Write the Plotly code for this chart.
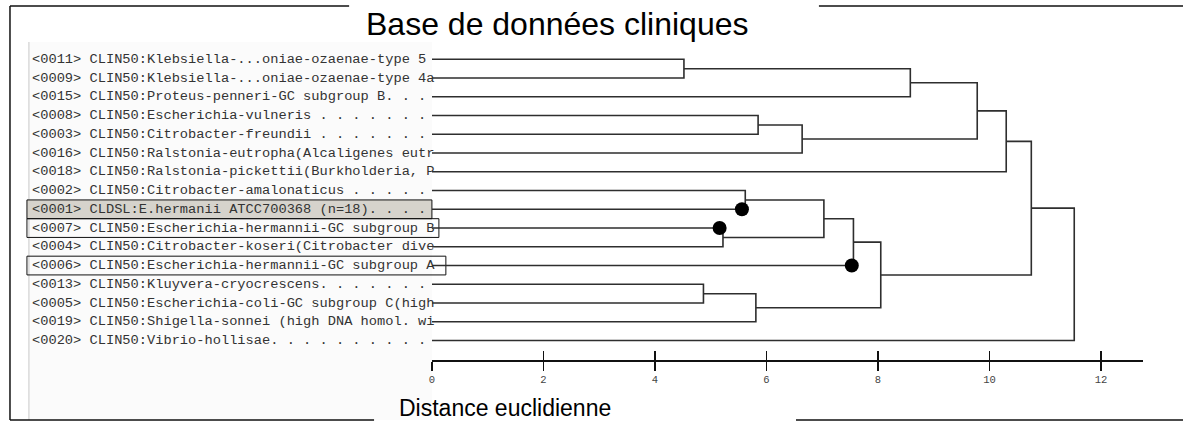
import plotly.graph_objects as go

W, H = 1183, 422

title_text = "Base de données cliniques"
xlabel_text = "Distance euclidienne"

leaf_labels = [
    "<0011> CLIN50:Klebsiella-...oniae-ozaenae-type 5 ",
    "<0009> CLIN50:Klebsiella-...oniae-ozaenae-type 4a",
    "<0015> CLIN50:Proteus-penneri-GC subgroup B. . . ",
    "<0008> CLIN50:Escherichia-vulneris . . . . . . . ",
    "<0003> CLIN50:Citrobacter-freundii . . . . . . . ",
    "<0016> CLIN50:Ralstonia-eutropha(Alcaligenes eutr",
    "<0018> CLIN50:Ralstonia-pickettii(Burkholderia, P",
    "<0002> CLIN50:Citrobacter-amalonaticus . . . . . ",
    "<0001> CLDSL:E.hermanii ATCC700368 (n=18). . . . ",
    "<0007> CLIN50:Escherichia-hermannii-GC subgroup B",
    "<0004> CLIN50:Citrobacter-koseri(Citrobacter dive",
    "<0006> CLIN50:Escherichia-hermannii-GC subgroup A",
    "<0013> CLIN50:Kluyvera-cryocrescens. . . . . . . ",
    "<0005> CLIN50:Escherichia-coli-GC subgroup C(high",
    "<0019> CLIN50:Shigella-sonnei (high DNA homol. wi",
    "<0020> CLIN50:Vibrio-hollisae. . . . . . . . . . ",
]

# linkage: children are leaf indices (0..15) or 16+k for merge k
merge_a = [0, 16, 3, 18, 17, 20, 7, 9, 22, 24, 12, 26, 25, 21, 29]
merge_b = [1, 2, 4, 5, 19, 6, 8, 10, 23, 11, 13, 14, 27, 28, 15]
merge_height = [4.52, 8.58, 5.85, 6.64, 9.78, 10.30, 5.62, 5.22, 7.03, 7.56,
                4.87, 5.81, 8.05, 10.75, 11.52]

# highlighted leaves (dots)
dot_leaves = [8, 9, 11]
dot_dist = [5.56, 5.16, 7.53]

# boxed labels
box_leaves = [8, 9, 11]
box_fill = ["#d6d3cc", "rgba(255,255,255,0)", "rgba(255,255,255,0)"]
box_right_px = [430, 437, 444]

tick_vals = [0, 2, 4, 6, 8, 10, 12]
tick_text = ["0", "2", "4", "6", "8", "10", "12"]

# ---- geometry ----
n_leaves = len(leaf_labels)
x0_px, x_end_px = 430, 1143
px_per_unit = 55.9
x_max = (x_end_px - x0_px) / px_per_unit
axis_px = 360
row0_px, row_step = 59.3, 18.75
y_top = -row0_px / row_step
y_bot = (axis_px - row0_px) / row_step


def px_x(p):
    return p / W


def px_y(p):
    return 1 - p / H


# compute node positions
node_y = {i: float(i) for i in range(n_leaves)}
node_h = {i: 0.0 for i in range(n_leaves)}
xs, ys = [], []
for k, (a, b, h) in enumerate(zip(merge_a, merge_b, merge_height)):
    nid = n_leaves + k
    ya, yb = node_y[a], node_y[b]
    xs += [node_h[a], h, h, node_h[b], None]
    ys += [ya, ya, yb, yb, None]
    node_y[nid] = (ya + yb) / 2
    node_h[nid] = h

fig = go.Figure()
fig.add_trace(go.Scatter(x=xs, y=ys, mode="lines",
                         line=dict(color="#2e2e2e", width=1.6),
                         hoverinfo="skip", showlegend=False, cliponaxis=False))
fig.add_trace(go.Scatter(x=dot_dist, y=dot_leaves, mode="markers",
                         marker=dict(color="black", size=14),
                         hoverinfo="skip", showlegend=False, cliponaxis=False))
# invisible trace on overlay axis for crossing ticks
fig.add_trace(go.Scatter(x=tick_vals, y=[y_bot] * len(tick_vals), xaxis="x2",
                         mode="markers", marker=dict(opacity=0),
                         hoverinfo="skip", showlegend=False))

shapes = []
# label panel
shapes.append(dict(type="rect", xref="paper", yref="paper",
                   x0=px_x(26), x1=px_x(430), y0=px_y(420), y1=px_y(42),
                   fillcolor="#fbfbfb", line=dict(width=0), layer="below"))
shapes.append(dict(type="line", xref="paper", yref="paper",
                   x0=px_x(26), x1=px_x(26), y0=px_y(420), y1=px_y(42),
                   line=dict(color="#c8c8c8", width=1), layer="below"))
# label boxes
for leaf, fill, rpx in zip(box_leaves, box_fill, box_right_px):
    shapes.append(dict(type="rect", xref="paper", yref="y",
                       x0=px_x(24), x1=px_x(rpx), y0=leaf - 0.5, y1=leaf + 0.5,
                       fillcolor=fill, line=dict(color="#111", width=1),
                       layer="below"))
# frame lines
frame = [
    (7, 6, 7, 420),
    (7, 6, 347, 6),
    (818, 6, 1183, 6),
    (7, 420, 372, 420),
    (795, 420, 1183, 420),
]
for xa, ya, xb, yb in frame:
    shapes.append(dict(type="line", xref="paper", yref="paper",
                       x0=px_x(xa), y0=px_y(ya), x1=px_x(xb), y1=px_y(yb),
                       line=dict(color="#111", width=1.5)))

annotations = []
for i, lab in enumerate(leaf_labels):
    annotations.append(dict(x=px_x(27), y=i, xref="paper", yref="y",
                            text=lab, showarrow=False, xanchor="left",
                            yanchor="middle",
                            font=dict(family="Liberation Mono, Courier New, monospace",
                                      size=13.7, color="#333")))
annotations.append(dict(x=px_x(556), y=px_y(24), xref="paper", yref="paper",
                        text=title_text, showarrow=False, xanchor="center",
                        yanchor="middle",
                        font=dict(family="Liberation Sans, Arial, sans-serif",
                                  size=32, color="black")))
annotations.append(dict(x=px_x(503), y=px_y(408), xref="paper", yref="paper",
                        text=xlabel_text, showarrow=False, xanchor="center",
                        yanchor="middle",
                        font=dict(family="Liberation Sans, Arial, sans-serif",
                                  size=23, color="black")))

dom_x = [px_x(x0_px), px_x(x_end_px)]
fig.update_layout(
    width=W, height=H,
    margin=dict(l=0, r=0, t=0, b=0),
    paper_bgcolor="white", plot_bgcolor="rgba(0,0,0,0)",
    showlegend=False,
    xaxis=dict(domain=dom_x, range=[0, x_max], showgrid=False, zeroline=False,
               showline=True, linecolor="#111", linewidth=1.5,
               ticks="outside", ticklen=9, tickwidth=1.2, tickcolor="#111",
               tickvals=tick_vals, ticktext=tick_text,
               tickfont=dict(family="Liberation Mono, Courier New, monospace",
                             size=10.5, color="#444"),
               anchor="y", fixedrange=True),
    xaxis2=dict(domain=dom_x, range=[0, x_max], overlaying="x", anchor="y",
                showgrid=False, zeroline=False, showline=False,
                ticks="inside", ticklen=9, tickwidth=1.2, tickcolor="#111",
                tickvals=tick_vals, showticklabels=False, side="bottom"),
    yaxis=dict(domain=[1 - axis_px / H, 1], range=[y_bot, y_top],
               visible=False, fixedrange=True),
    shapes=shapes,
    annotations=annotations,
)

fig.write_html("out.html",
               config={"displayModeBar": False, "staticPlot": True},
               post_script="document.body.style.margin='0';"
                           "document.body.style.overflow='hidden';")
